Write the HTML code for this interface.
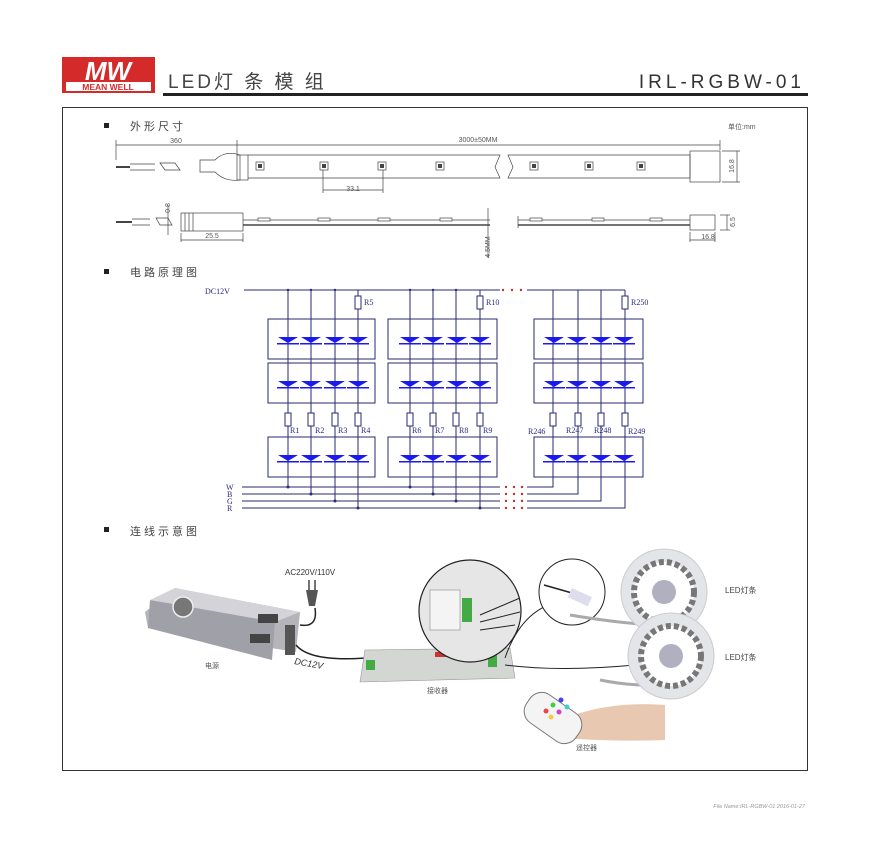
<!DOCTYPE html>
<html><head><meta charset="utf-8"><style>
html,body{margin:0;padding:0;background:#fff;}
svg{display:block;}
text{font-family:"Liberation Sans","Noto Sans CJK SC",sans-serif;}
.s{font-family:"Liberation Serif","Noto Serif CJK SC",serif;fill:#2a2a80;font-size:8px;}
</style></head><body>
<svg width="870" height="842" viewBox="0 0 870 842" xmlns="http://www.w3.org/2000/svg">
<!-- header -->
<rect x="62" y="57" width="93" height="36" fill="#d42a2a"/>
<text x="108" y="80" font-size="26" font-style="italic" font-weight="bold" fill="#fff" text-anchor="middle">MW</text>
<rect x="66" y="82" width="85" height="9" fill="#fff"/>
<text x="108" y="90" font-size="8.5" font-weight="bold" fill="#d42a2a" text-anchor="middle">MEAN WELL</text>
<text x="168" y="88" font-size="19" fill="#444" letter-spacing="3">LED灯 条 模 组</text>
<text x="805" y="88" font-size="19" fill="#333" text-anchor="end" letter-spacing="4">IRL-RGBW-01</text>
<rect x="163" y="93" width="645" height="3" fill="#222"/>
<!-- main box -->
<rect x="62.5" y="107.5" width="745" height="663" fill="none" stroke="#333" stroke-width="1"/>
<!-- section 1 -->
<rect x="104" y="123" width="5" height="5" fill="#222"/>
<text x="130" y="130" font-size="11" fill="#444" letter-spacing="3">外形尺寸</text>
<text x="728" y="129" font-size="7" fill="#555">单位:mm</text>
<g stroke="#444" stroke-width="0.7" fill="none">
<line x1="116" y1="145" x2="237" y2="145"/><line x1="116" y1="140" x2="116" y2="160"/>
<line x1="237" y1="145" x2="720" y2="145"/><line x1="237" y1="140" x2="237" y2="155"/><line x1="720" y1="140" x2="720" y2="150"/>
<line x1="116" y1="167" x2="130" y2="167" stroke-width="2"/><line x1="130" y1="164" x2="155" y2="164"/><line x1="130" y1="170" x2="155" y2="170"/>
<path d="M160 163 L175 163 L180 170 L165 170 Z"/>
<path d="M200 160 L215 160 Q225 150 240 155 L240 180 Q225 182 215 172 L200 172 Z"/>
<rect x="237" y="155" width="11" height="25"/>
<path d="M248 155 L500 155 L495 167 L500 178 L248 178"/>
<path d="M508 155 L690 155 L690 178 L508 178 L513 167 Z"/>
<rect x="690" y="151" width="30" height="31"/>
<line x1="323" y1="170" x2="323" y2="193"/><line x1="383" y1="170" x2="383" y2="193"/><line x1="323" y1="190" x2="383" y2="190"/>
<line x1="722" y1="151" x2="740" y2="151"/><line x1="722" y1="182" x2="740" y2="182"/><line x1="737" y1="151" x2="737" y2="182"/>
<line x1="116" y1="222" x2="132" y2="222" stroke-width="2"/><line x1="132" y1="219" x2="150" y2="219"/><line x1="132" y1="225" x2="150" y2="225"/>
<path d="M156 218 L168 218 L172 225 L160 225 Z"/>
<rect x="181" y="213" width="62" height="18"/>
<line x1="185" y1="213" x2="185" y2="231"/><line x1="189" y1="213" x2="189" y2="231"/><line x1="193" y1="213" x2="193" y2="231"/>
<line x1="243" y1="220" x2="490" y2="220"/><line x1="243" y1="225" x2="490" y2="225" stroke-width="1.5"/>
<line x1="518" y1="220" x2="690" y2="220"/><line x1="518" y1="225" x2="690" y2="225" stroke-width="1.5"/>
<line x1="518" y1="216" x2="518" y2="228"/>
<rect x="690" y="215" width="25" height="15"/>
<line x1="181" y1="233" x2="181" y2="242"/><line x1="243" y1="233" x2="243" y2="242"/><line x1="181" y1="240" x2="243" y2="240"/>
<line x1="690" y1="232" x2="690" y2="242"/><line x1="715" y1="232" x2="715" y2="242"/><line x1="690" y1="240" x2="715" y2="240"/>
<line x1="488" y1="208" x2="488" y2="258"/><line x1="168" y1="205" x2="168" y2="235"/>
<line x1="720" y1="215" x2="730" y2="215"/><line x1="720" y1="230" x2="730" y2="230"/><line x1="727" y1="215" x2="727" y2="230"/>
</g>
<g fill="#fff" stroke="#444" stroke-width="0.7">
<rect x="256" y="162" width="8" height="8"/><rect x="320" y="162" width="8" height="8"/><rect x="378" y="162" width="8" height="8"/><rect x="436" y="162" width="8" height="8"/>
<rect x="530" y="162" width="8" height="8"/><rect x="585" y="162" width="8" height="8"/><rect x="637" y="162" width="8" height="8"/>
<rect x="258" y="218" width="12" height="3"/><rect x="318" y="218" width="12" height="3"/><rect x="378" y="218" width="12" height="3"/><rect x="440" y="218" width="12" height="3"/>
<rect x="530" y="218" width="12" height="3"/><rect x="592" y="218" width="12" height="3"/><rect x="650" y="218" width="12" height="3"/>
</g>
<g fill="#444"><rect x="258" y="164" width="4" height="4"/><rect x="322" y="164" width="4" height="4"/><rect x="380" y="164" width="4" height="4"/><rect x="438" y="164" width="4" height="4"/><rect x="532" y="164" width="4" height="4"/><rect x="587" y="164" width="4" height="4"/><rect x="639" y="164" width="4" height="4"/></g>
<g font-size="7" fill="#555">
<text x="176" y="143" text-anchor="middle">360</text>
<text x="478" y="142" text-anchor="middle">3000±50MM</text>
<text x="353" y="191" text-anchor="middle">33.1</text>
<text x="212" y="238" text-anchor="middle">25.5</text>
<text x="708" y="239" text-anchor="middle">16.8</text>
<text transform="translate(734,166) rotate(-90)" text-anchor="middle">16.8</text>
<text transform="translate(490,247) rotate(-90)" text-anchor="middle">4.5MM</text>
<text transform="translate(170,208) rotate(-90)" text-anchor="middle">0.8</text>
<text transform="translate(735,222) rotate(-90)" text-anchor="middle">6.5</text>
</g>
<!-- section 2 -->
<rect x="104" y="269" width="5" height="5" fill="#222"/>
<text x="130" y="276" font-size="11" fill="#444" letter-spacing="3">电路原理图</text>
<text x="205" y="294" class="s">DC12V</text>
<g stroke="#2a2a70" stroke-width="1" fill="none">
<line x1="244" y1="290" x2="500" y2="290"/><line x1="527" y1="290" x2="625" y2="290"/>
<line x1="242" y1="487" x2="500" y2="487"/><line x1="242" y1="494" x2="500" y2="494"/><line x1="242" y1="501" x2="500" y2="501"/><line x1="242" y1="508" x2="500" y2="508"/>
<path d="M527 487 H553 V290"/><path d="M527 494 H578 V290"/><path d="M527 501 H601 V290"/><path d="M527 508 H625 V290"/>
<line x1="288" y1="290" x2="288" y2="487"/><line x1="311" y1="290" x2="311" y2="494"/><line x1="335" y1="290" x2="335" y2="501"/><line x1="358" y1="290" x2="358" y2="508"/>
<line x1="410" y1="290" x2="410" y2="487"/><line x1="433" y1="290" x2="433" y2="494"/><line x1="456" y1="290" x2="456" y2="501"/><line x1="480" y1="290" x2="480" y2="508"/>
<rect x="268" y="319" width="107" height="40"/><rect x="268" y="363" width="107" height="40"/><rect x="268" y="437" width="107" height="40"/>
<rect x="388" y="319" width="109" height="40"/><rect x="388" y="363" width="109" height="40"/><rect x="388" y="437" width="109" height="40"/>
<rect x="534" y="319" width="109" height="40"/><rect x="534" y="363" width="109" height="40"/><rect x="534" y="437" width="109" height="40"/>
</g>
<g fill="#fff" stroke="#2a2a70" stroke-width="1">
<rect x="355" y="296" width="6" height="13"/><rect x="477" y="296" width="6" height="13"/><rect x="622" y="296" width="6" height="13"/>
<rect x="285" y="413" width="6" height="13"/><rect x="308" y="413" width="6" height="13"/><rect x="332" y="413" width="6" height="13"/><rect x="355" y="413" width="6" height="13"/>
<rect x="407" y="413" width="6" height="13"/><rect x="430" y="413" width="6" height="13"/><rect x="453" y="413" width="6" height="13"/><rect x="477" y="413" width="6" height="13"/>
<rect x="550" y="413" width="6" height="13"/><rect x="575" y="413" width="6" height="13"/><rect x="598" y="413" width="6" height="13"/><rect x="622" y="413" width="6" height="13"/>
</g>
<g fill="#1a1aee" id="d">
<path d="M278 337 H298 L288 343 Z M277 343 H299 V344.5 H277 Z"/>
<path d="M301 337 H321 L311 343 Z M300 343 H322 V344.5 H300 Z"/>
<path d="M325 337 H345 L335 343 Z M324 343 H346 V344.5 H324 Z"/>
<path d="M348 337 H368 L358 343 Z M347 343 H369 V344.5 H347 Z"/>
</g>
<use href="#d" x="0" y="44"/><use href="#d" x="0" y="118"/>
<use href="#d" x="122" y="0"/><use href="#d" x="122" y="44"/><use href="#d" x="122" y="118"/>
<use href="#d" x="266" y="0"/><use href="#d" x="266" y="44"/><use href="#d" x="266" y="118"/>
<g fill="#2a2a70"><circle cx="288" cy="290" r="1.2"/><circle cx="311" cy="290" r="1.2"/><circle cx="335" cy="290" r="1.2"/><circle cx="410" cy="290" r="1.2"/><circle cx="433" cy="290" r="1.2"/><circle cx="456" cy="290" r="1.2"/>
<circle cx="288" cy="487" r="1.5"/><circle cx="311" cy="494" r="1.5"/><circle cx="335" cy="501" r="1.5"/><circle cx="358" cy="508" r="1.5"/><circle cx="410" cy="487" r="1.5"/><circle cx="433" cy="494" r="1.5"/><circle cx="456" cy="501" r="1.5"/><circle cx="480" cy="508" r="1.5"/></g>
<g fill="#c03030"><circle cx="503" cy="290" r="1.2"/><circle cx="512" cy="290" r="1.2"/><circle cx="521" cy="290" r="1.2"/>
<circle cx="506" cy="487" r="1.2"/><circle cx="514" cy="487" r="1.2"/><circle cx="522" cy="487" r="1.2"/>
<circle cx="506" cy="494" r="1.2"/><circle cx="514" cy="494" r="1.2"/><circle cx="522" cy="494" r="1.2"/>
<circle cx="506" cy="501" r="1.2"/><circle cx="514" cy="501" r="1.2"/><circle cx="522" cy="501" r="1.2"/>
<circle cx="506" cy="508" r="1.2"/><circle cx="514" cy="508" r="1.2"/><circle cx="522" cy="508" r="1.2"/></g>
<text x="364" y="305" class="s">R5</text><text x="486" y="305" class="s">R10</text><text x="631" y="305" class="s">R250</text>
<text x="290" y="433" class="s">R1</text><text x="315" y="433" class="s">R2</text><text x="338" y="433" class="s">R3</text><text x="361" y="433" class="s">R4</text>
<text x="412" y="433" class="s">R6</text><text x="435" y="433" class="s">R7</text><text x="459" y="433" class="s">R8</text><text x="483" y="433" class="s">R9</text>
<text x="528" y="434" class="s">R246</text><text x="566" y="433" class="s">R247</text><text x="594" y="433" class="s">R248</text><text x="628" y="434" class="s">R249</text>
<text x="226" y="490" class="s">W</text><text x="227" y="497" class="s">B</text><text x="227" y="504" class="s">G</text><text x="227" y="511" class="s">R</text>
<!-- section 3 -->
<rect x="104" y="527" width="5" height="5" fill="#222"/>
<text x="130" y="535" font-size="11" fill="#444" letter-spacing="3">连线示意图</text>
<text x="285" y="575" font-size="8" fill="#333">AC220V/110V</text>
<!-- power supply -->
<polygon points="175,588 300,612 296,652 148,628 145,612" fill="#b4b4ba"/>
<polygon points="175,588 300,612 275,622 150,600" fill="#d4d4d8"/>
<polygon points="150,600 275,622 272,660 148,628" fill="#a0a0a8"/>
<circle cx="183" cy="607" r="10" fill="#777" stroke="#eee" stroke-width="1.5"/>
<g fill="#444"><rect x="258" y="614" width="20" height="9"/><rect x="250" y="634" width="20" height="9"/></g>
<rect x="285" y="625" width="10" height="30" fill="#555"/>
<path d="M300 625 Q318 628 315 608" stroke="#222" stroke-width="1.5" fill="none"/>
<polygon points="306,590 318,590 315,606 309,606" fill="#555"/>
<line x1="309" y1="580" x2="309" y2="590" stroke="#444" stroke-width="1.5"/><line x1="315" y1="580" x2="315" y2="590" stroke="#444" stroke-width="1.5"/>
<text x="205" y="668" font-size="7" fill="#555">电源</text>
<text x="294" y="664" font-size="9" font-style="italic" fill="#333" transform="rotate(10 294 664)">DC12V</text>
<path d="M296 645 Q310 662 365 658" stroke="#222" stroke-width="1.5" fill="none"/>
<!-- receiver -->
<polygon points="365,650 510,648 515,678 360,682" fill="#d4d6d4" stroke="#999" stroke-width="0.6"/>
<rect x="435" y="652" width="17" height="5" fill="#c33"/>
<rect x="366" y="660" width="9" height="10" fill="#4a4"/><rect x="488" y="655" width="9" height="12" fill="#4a4"/>
<text x="427" y="693" font-size="7" fill="#555">接收器</text>
<!-- zoom circle -->
<circle cx="470" cy="611" r="51" fill="#e6e6e6" stroke="#222" stroke-width="1.2"/>
<rect x="430" y="590" width="30" height="40" fill="#f4f4f4" stroke="#888" stroke-width="0.6"/>
<rect x="462" y="598" width="10" height="24" fill="#4a4"/>
<path d="M480 615 L520 598 M480 622 L520 612 M480 630 L515 625" stroke="#222" stroke-width="1" fill="none"/>
<path d="M505 658 Q525 600 575 600 M505 665 Q560 672 635 665" stroke="#222" stroke-width="1" fill="none"/>
<circle cx="572" cy="592" r="33" fill="#fff" stroke="#222" stroke-width="1"/>
<path d="M544 585 L572 593" stroke="#222" stroke-width="1.5"/><rect x="572" y="588" width="22" height="10" fill="#dde" transform="rotate(25 572 588)"/>
<path d="M570 615 Q630 625 665 625" stroke="#aaa" stroke-width="3" fill="none"/>
<path d="M600 680 Q650 690 680 680" stroke="#aaa" stroke-width="3" fill="none"/>
<!-- reels -->
<circle cx="664" cy="592" r="43" fill="#e4e5e8" stroke="#ccc"/><circle cx="664" cy="592" r="30" fill="#fff" stroke="#777" stroke-width="6" stroke-dasharray="5 3"/><circle cx="664" cy="592" r="12" fill="#b0b0c0"/>
<circle cx="671" cy="656" r="43" fill="#e4e5e8" stroke="#ccc"/><circle cx="671" cy="656" r="30" fill="#fff" stroke="#777" stroke-width="6" stroke-dasharray="5 3"/><circle cx="671" cy="656" r="12" fill="#b0b0c0"/>
<text x="725" y="593" font-size="8" fill="#444">LED灯条</text>
<text x="725" y="660" font-size="8" fill="#444">LED灯条</text>
<!-- remote & hand -->
<path d="M550 725 Q600 700 665 705 L665 740 Q620 742 560 738 Z" fill="#e8c8b0"/>
<rect x="536" y="688" width="34" height="60" rx="14" fill="#f4f4f4" stroke="#777" transform="rotate(-55 553 718)"/>
<g><circle cx="546" cy="711" r="2.5" fill="#e44"/><circle cx="553" cy="705" r="2.5" fill="#4c4"/><circle cx="561" cy="700" r="2.5" fill="#44e"/><circle cx="551" cy="717" r="2.5" fill="#ec4"/><circle cx="559" cy="712" r="2.5" fill="#c4c"/><circle cx="567" cy="707" r="2.5" fill="#4cc"/></g>
<text x="576" y="750" font-size="7" fill="#555">遥控器</text>
<!-- footer -->
<text x="805" y="808" font-size="5.5" font-style="italic" fill="#999" text-anchor="end">File Name:IRL-RGBW-01   2016-01-27</text>
</svg>
</body></html>
